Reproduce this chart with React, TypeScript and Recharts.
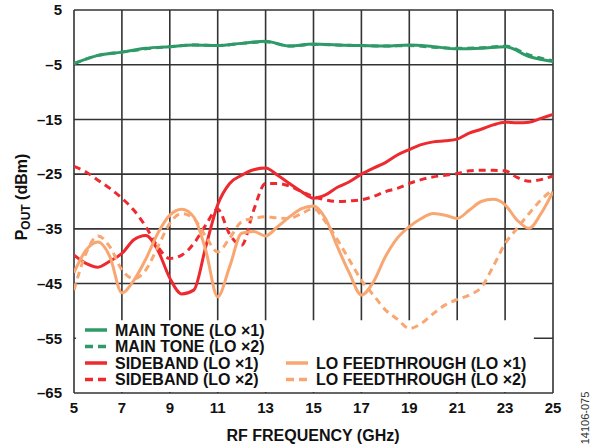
import React from 'react'
import { LineChart, Line, XAxis, YAxis, CartesianGrid, ReferenceArea } from 'recharts'

// RF frequency (GHz)
const freqHalf = [
    5, 5.5, 6, 6.5, 7, 7.5, 8, 8.5, 9, 9.5, 10, 10.5, 11, 11.5, 12, 12.5, 13, 13.5, 14, 14.5,
    15, 15.5, 16, 16.5, 17, 17.5, 18, 18.5, 19, 19.5, 20, 20.5, 21, 21.5, 22, 22.5, 23, 23.5, 24, 24.5, 25
]
const freqWhole = [5, 6, 7, 8, 9, 10, 11, 12, 13, 14, 15, 16, 17, 18, 19, 20, 21, 22, 23, 24, 25]

// POUT (dBm)
const mainToneX1 = [-4.8, -3.3, -2.7, -2.0, -1.7, -1.4, -1.5, -1.1, -0.7, -1.6, -1.2, -1.4, -1.5, -1.6, -1.4, -1.7, -2.1, -2.0, -1.7, -3.5, -4.4]
const mainToneX2 = [-4.8, -3.3, -2.7, -2.1, -1.7, -1.4, -1.5, -1.1, -0.8, -1.6, -1.3, -1.4, -1.5, -1.6, -1.5, -1.8, -2.0, -1.9, -1.6, -3.2, -4.3]

const sidebandX1 = [
    -39.8, -41.3, -42.0, -40.9, -39.5, -37.0, -36.2, -38.9, -44.0, -46.9, -46.2, -38.3, -30.6, -26.7, -25.2, -24.2, -23.9, -25.2, -26.7, -28.2,
    -29.4, -28.8, -27.4, -26.4, -25.0, -23.9, -22.9, -21.5, -20.5, -19.6, -19.1, -18.9, -18.6, -17.5, -16.8, -16.0, -15.5, -15.6, -15.5, -14.8, -14.1
]
const sidebandX2 = [
    -23.6, -24.6, -26.1, -27.6, -29.4, -31.6, -34.6, -38.3, -40.4, -39.8, -37.7, -34.3, -31.4, -36.0, -38.0, -31.6, -26.7, -26.7, -27.2, -28.2,
    -29.1, -29.7, -30.0, -29.9, -29.7, -29.1, -28.2, -27.6, -26.7, -26.0, -25.5, -25.2, -24.9, -24.4, -24.3, -24.3, -24.4, -25.6, -26.3, -26.0, -25.3
]
const loFeedX1 = [
    -43.0, -38.9, -37.4, -40.1, -46.7, -44.4, -40.5, -35.8, -32.5, -31.4, -32.8, -38.9, -47.4, -41.9, -35.8, -35.5, -36.3, -34.6, -32.8, -31.3,
    -30.8, -33.1, -38.3, -43.1, -47.1, -44.7, -40.1, -36.7, -34.6, -33.1, -32.2, -32.5, -33.1, -31.6, -30.0, -29.6, -30.6, -33.4, -34.9, -32.2, -28.2
]
const loFeedX2 = [
    -46.2, -39.5, -36.3, -38.3, -42.5, -44.1, -42.5, -38.3, -34.0, -32.2, -33.1, -36.4, -39.2, -36.7, -33.7, -33.1, -32.8, -33.0, -33.1, -32.2,
    -31.3, -33.7, -37.0, -40.7, -44.4, -47.1, -49.8, -51.5, -53.2, -52.3, -50.5, -48.9, -47.9, -47.1, -45.7, -41.9, -37.7, -34.9, -32.2, -29.7, -27.8
]

const xTicks = [5, 7, 9, 11, 13, 15, 17, 19, 21, 23, 25]
const yTicks = [-65, -55, -45, -35, -25, -15, -5, 5]

const GREEN = '#2f9a68'
const RED = '#ec2a2f'
const ORANGE = '#f8a772'
const DASH = '7 5'
const FONT = '"Liberation Sans", Arial, sans-serif'

const legendItems = [
    { label: 'MAIN TONE (LO \u00d71)', color: GREEN, dashed: false, col: 0, row: 0 },
    { label: 'MAIN TONE (LO \u00d72)', color: GREEN, dashed: true, col: 0, row: 1 },
    { label: 'SIDEBAND (LO \u00d71)', color: RED, dashed: false, col: 0, row: 2 },
    { label: 'SIDEBAND (LO \u00d72)', color: RED, dashed: true, col: 0, row: 3 },
    { label: 'LO FEEDTHROUGH (LO \u00d71)', color: ORANGE, dashed: false, col: 1, row: 2 },
    { label: 'LO FEEDTHROUGH (LO \u00d72)', color: ORANGE, dashed: true, col: 1, row: 3 },
]

function toPoints(xs: number[], ys: number[]) {
    return xs.map((f, i) => ({ f, v: ys[i] }))
}

const fmt = (v: number) => (v < 0 ? `\u2013${-v}` : String(v))

function YLabel() {
    return (
        <text x={27} y={197} transform="rotate(-90, 27, 197)" textAnchor="middle"
            fontFamily={FONT} fontWeight="bold" fontSize={16} fill="#111">
            P<tspan fontSize={12} dy={3}>OUT</tspan><tspan dy={-3}> (dBm)</tspan>
        </text>
    )
}

function XLabel() {
    return (
        <text x={313} y={441} textAnchor="middle" fontFamily={FONT} fontWeight="bold" fontSize={16} fill="#111">
            RF FREQUENCY (GHz)
        </text>
    )
}

export default function App() {
    const colX = [9, 210]
    const rowY = [10, 26.5, 43, 59.5]
    return (
        <div style={{ position: 'absolute', left: 0, top: 0, width: 592, height: 448, background: '#fff' }}>
            <LineChart width={592} height={448} margin={{ top: 10, right: 39, left: 0, bottom: 10 }}>
                <CartesianGrid stroke="#333" strokeWidth={1.6} />
                <XAxis dataKey="f" type="number" domain={[5, 25]} ticks={xTicks} allowDataOverflow
                    axisLine={false} tickLine={false} tickSize={0} tickMargin={9} height={45}
                    tick={{ fontFamily: FONT, fontWeight: 'bold', fontSize: 15, fill: '#111' }}
                    label={<XLabel />} />
                <YAxis type="number" domain={[-65, 5]} ticks={yTicks} allowDataOverflow
                    axisLine={false} tickLine={false} tickSize={0} tickMargin={12} width={74}
                    tickFormatter={fmt}
                    tick={{ fontFamily: FONT, fontWeight: 'bold', fontSize: 15, fill: '#111' }}
                    label={<YLabel />} />
                {/* white legend panel behind the curves */}
                <ReferenceArea x1={5.08} x2={24.2} y1={-64.8} y2={-51.7} fill="#fff" fillOpacity={1}
                    stroke="none" ifOverflow="visible" />
                <Line data={toPoints(freqHalf, sidebandX2)} dataKey="v" type="monotone" stroke={RED} strokeWidth={3}
                    strokeDasharray={DASH} dot={false} isAnimationActive={false} />
                <Line data={toPoints(freqHalf, sidebandX1)} dataKey="v" type="monotone" stroke={RED} strokeWidth={3}
                    dot={false} isAnimationActive={false} />
                <Line data={toPoints(freqHalf, loFeedX2)} dataKey="v" type="monotone" stroke={ORANGE} strokeWidth={3}
                    strokeDasharray={DASH} dot={false} isAnimationActive={false} />
                <Line data={toPoints(freqHalf, loFeedX1)} dataKey="v" type="monotone" stroke={ORANGE} strokeWidth={3}
                    dot={false} isAnimationActive={false} />
                <Line data={toPoints(freqWhole, mainToneX1)} dataKey="v" type="monotone" stroke={GREEN} strokeWidth={3}
                    dot={false} isAnimationActive={false} />
                <Line data={toPoints(freqWhole, mainToneX2)} dataKey="v" type="monotone" stroke={GREEN} strokeWidth={3}
                    strokeDasharray={DASH} dot={false} isAnimationActive={false} />
            </LineChart>
            <svg width={592} height={448} style={{ position: 'absolute', left: 0, top: 0, pointerEvents: 'none' }}>
                <g transform="translate(76, 320)">
                    {legendItems.map((it) => (
                        <g key={it.label}>
                            <line x1={colX[it.col]} x2={colX[it.col] + 22} y1={rowY[it.row]} y2={rowY[it.row]}
                                stroke={it.color} strokeWidth={3.5} strokeDasharray={it.dashed ? '8 5' : undefined} />
                            <text x={colX[it.col] + 30} y={rowY[it.row]} dy="0.36em" fontFamily={FONT}
                                fontWeight="bold" fontSize={16} fill="#111">{it.label}</text>
                        </g>
                    ))}
                </g>
                <text x={589} y={418} transform="rotate(-90, 589, 418)" textAnchor="middle"
                    fontFamily={FONT} fontSize={11} fill="#333">14106-075</text>
            </svg>
        </div>
    )
}
